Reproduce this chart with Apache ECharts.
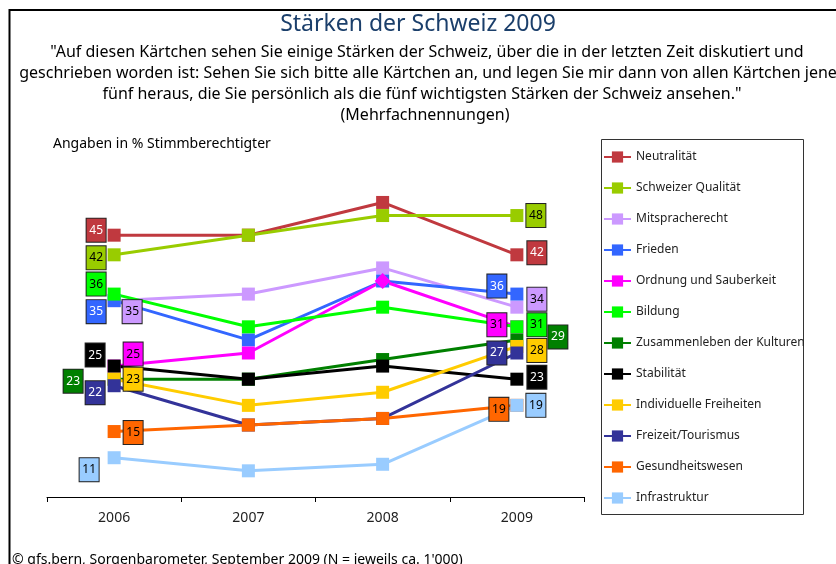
<!DOCTYPE html>
<html><head><meta charset="utf-8">
<script src="https://cdn.jsdelivr.net/npm/echarts@6/dist/echarts.min.js"></script>
<style>html,body{margin:0;padding:0;background:#fff}#c{width:836px;height:564px}</style>
</head><body><div id="c"></div>
<script>
// ---- data ----
const years = ['2006', '2007', '2008', '2009'];
const seriesNames = ['Neutralität', 'Schweizer Qualität', 'Mitspracherecht', 'Frieden',
  'Ordnung und Sauberkeit', 'Bildung', 'Zusammenleben der Kulturen', 'Stabilität',
  'Individuelle Freiheiten', 'Freizeit/Tourismus', 'Gesundheitswesen', 'Infrastruktur'];
const neutralitaet = [45, 45, 50, 42];
const schweizerQualitaet = [42, 45, 48, 48];
const mitspracherecht = [35, 36, 40, 34];
const frieden = [35, 29, 38, 36];
const ordnung = [25, 27, 38, 31];
const bildung = [36, 31, 34, 31];
const zusammenleben = [23, 23, 26, 29];
const stabilitaet = [25, 23, 25, 23];
const freiheiten = [23, 19, 21, 28];
const freizeit = [22, 16, 17, 27];
const gesundheit = [15, 16, 17, 19];
const infrastruktur = [11, 9, 10, 19];
const allValues = [neutralitaet, schweizerQualitaet, mitspracherecht, frieden, ordnung, bildung,
  zusammenleben, stabilitaet, freiheiten, freizeit, gesundheit, infrastruktur];

// ---- styles ----
const colors = ['#C0393F', '#99CC00', '#CC99FF', '#3366FF', '#FF00FF', '#00FF00',
  '#008000', '#000000', '#FFCC00', '#333399', '#FF6600', '#99CCFF'];
const labelTextColors = ['#fff', '#000', '#000', '#fff', '#000', '#000',
  '#fff', '#fff', '#000', '#fff', '#000', '#000'];
// label offsets [first point, last point]
const labelOffsets = [
  [[-18, -5], [20, -2]],
  [[-18, 3], [19, 0]],
  [[18, 11], [20, -8]],
  [[-18, 11], [-20, -8]],
  [[19, -12], [-20, -2]],
  [[-18, -10], [20, -2]],
  [[-41, 2], [41, -3]],
  [[-19, -11], [20, -2]],
  [[19, 0], [20, 4]],
  [[-19, 7], [-20, 0]],
  [[19, 1], [-18, 4]],
  [[-25, 12], [19, 0]]
];

const FONT = 'Noto Sans';
const chart = echarts.init(document.getElementById('c'), null, {renderer: 'canvas'});

const series = seriesNames.map((name, si) => ({
  name,
  type: 'line',
  symbol: 'rect',
  symbolSize: 13,
  lineStyle: {width: 3, color: colors[si]},
  itemStyle: {color: colors[si]},
  emphasis: {disabled: true},
  animation: false,
  z: 2,
  data: allValues[si].map((v, i) => {
    const item = {value: v};
    if (si === 4 && i === 2) { item.symbol = 'diamond'; item.symbolSize = 16; }
    if (i === 0 || i === allValues[si].length - 1) {
      const off = labelOffsets[si][i === 0 ? 0 : 1];
      item.label = {
        show: true,
        position: 'inside',
        offset: off,
        formatter: '{c}',
        color: labelTextColors[si],
        fontFamily: FONT,
        fontSize: 12,
        backgroundColor: colors[si],
        borderColor: '#222',
        borderWidth: 1,
        width: 19,
        height: 23,
        lineHeight: 23,
        align: 'center',
        verticalAlign: 'middle',
        padding: 0,
        textBorderWidth: 0
      };
    }
    return item;
  })
}));

const option = {
  backgroundColor: '#fff',
  animation: false,
  grid: {left: 47, right: 252, top: 137, bottom: 67, containLabel: false},
  xAxis: {
    type: 'category',
    data: years,
    boundaryGap: true,
    axisLine: {lineStyle: {color: '#000', width: 1}},
    axisTick: {show: true, length: 5, lineStyle: {color: '#000'}},
    axisLabel: {color: '#222', fontFamily: FONT, fontSize: 14, margin: 14},
    splitLine: {show: false}
  },
  yAxis: {
    type: 'value', min: 5, max: 60, show: false, splitLine: {show: false}
  },
  legend: {
    orient: 'vertical',
    left: 603, top: 151,
    padding: 0,
    itemWidth: 27, itemHeight: 14,
    itemGap: 19,
    selectedMode: false,
    textStyle: {fontFamily: FONT, fontSize: 12, color: '#222'},
    data: seriesNames
  },
  graphic: [
    {type: 'line', shape: {x1: 9.5, y1: 10, x2: 836, y2: 10}, style: {stroke: '#000', lineWidth: 2}, silent: true},
    {type: 'line', shape: {x1: 9.5, y1: 9, x2: 9.5, y2: 564}, style: {stroke: '#000', lineWidth: 2}, silent: true},
    {type: 'rect', shape: {x: 601.5, y: 139.5, width: 202, height: 375}, style: {fill: 'none', stroke: '#333', lineWidth: 1}, silent: true},
    {type: 'text', x: 418, y: 24, style: {text: 'Stärken der Schweiz 2009', fill: '#1B3F6B', font: '23px "' + FONT + '"', textAlign: 'center', textVerticalAlign: 'middle'}, silent: true},
    {type: 'text', x: 427, y: 52, style: {text: '"Auf diesen Kärtchen sehen Sie einige Stärken der Schweiz, über die in der letzten Zeit diskutiert und', fill: '#000', font: '16px "' + FONT + '"', textAlign: 'center', textVerticalAlign: 'middle'}, silent: true},
    {type: 'text', x: 428, y: 73, style: {text: 'geschrieben worden ist: Sehen Sie sich bitte alle Kärtchen an, und legen Sie mir dann von allen Kärtchen jene', fill: '#000', font: '16px "' + FONT + '"', textAlign: 'center', textVerticalAlign: 'middle'}, silent: true},
    {type: 'text', x: 422, y: 94, style: {text: 'fünf heraus, die Sie persönlich als die fünf wichtigsten Stärken der Schweiz ansehen."', fill: '#000', font: '16px "' + FONT + '"', textAlign: 'center', textVerticalAlign: 'middle'}, silent: true},
    {type: 'text', x: 425, y: 115, style: {text: '(Mehrfachnennungen)', fill: '#000', font: '16px "' + FONT + '"', textAlign: 'center', textVerticalAlign: 'middle'}, silent: true},
    {type: 'text', x: 53, y: 144, style: {text: 'Angaben in % Stimmberechtigter', fill: '#000', font: '14px "' + FONT + '"', textAlign: 'left', textVerticalAlign: 'middle'}, silent: true},
    {type: 'text', x: 12, y: 560, style: {text: "© gfs.bern, Sorgenbarometer, September 2009 (N = jeweils ca. 1'000)", fill: '#000', font: '14px "' + FONT + '"', textAlign: 'left', textVerticalAlign: 'middle'}, silent: true}
  ],
  series
};
chart.setOption(option);
</script></body></html>
